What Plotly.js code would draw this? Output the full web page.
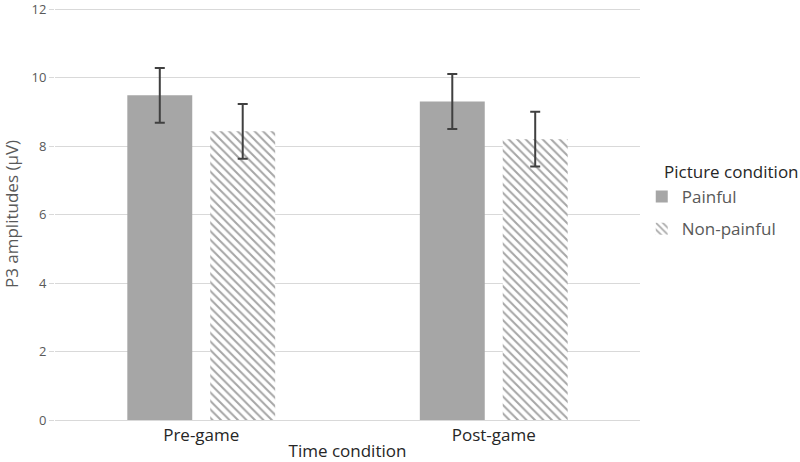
<!DOCTYPE html>
<html>
<head>
<meta charset="utf-8">
<script src="https://cdn.plot.ly/plotly-3.0.1.min.js"></script>
<style>html,body{margin:0;padding:0;background:#fff;}#chart{width:800px;height:462px;}</style>
</head>
<body>
<div id="chart"></div>
<script>
const categories = ["Pre-game", "Post-game"];
const painful = [9.48, 9.3];
const painfulErr = [0.8, 0.8];
const nonPainful = [8.43, 8.2];
const nonPainfulErr = [0.8, 0.8];
const yTicks = [0, 2, 4, 6, 8, 10, 12];

const FONT = "'Open Sans', Lato, sans-serif";
const traces = [
  {
    type: "bar", name: "Painful", x: categories, y: painful, legendgroup: "a",
    marker: {color: "#a6a6a6"},
    error_y: {type: "data", array: painfulErr, visible: true, color: "#404040", thickness: 2, width: 5}
  },
  {
    type: "bar", name: "Non-painful", x: categories, y: nonPainful, legendgroup: "b",
    marker: {color: "#ffffff", pattern: {shape: "\\", fgcolor: "#a6a6a6", bgcolor: "#ffffff", size: 6, solidity: 0.33}},
    error_y: {type: "data", array: nonPainfulErr, visible: true, color: "#404040", thickness: 2, width: 5}
  }
];
const layout = {
  width: 800, height: 462,
  margin: {l: 55, r: 160, t: 8, b: 42},
  paper_bgcolor: "#fff", plot_bgcolor: "#fff",
  font: {family: FONT, color: "#595959", size: 13},
  barmode: "group", bargap: 0.433, bargroupgap: 0.217,
  showlegend: true,
  legend: {
    x: 1.003, xanchor: "left", y: 0.585, yanchor: "top",
    font: {size: 17, color: "#595959", family: FONT},
    tracegroupgap: 7, itemwidth: 30
  },
  annotations: [{
    text: "Picture condition", xref: "paper", yref: "paper",
    x: 1.038, xanchor: "left", y: 0.602, yanchor: "middle", showarrow: false,
    font: {size: 17, color: "#262626", family: FONT}
  }],
  xaxis: {
    type: "category",
    tickfont: {size: 17, color: "#262626", family: FONT},
    title: {text: "Time condition", font: {size: 17, color: "#262626", family: FONT}, standoff: 1},
    showline: true, linecolor: "#d9d9d9", linewidth: 1,
    ticks: "", showgrid: false, automargin: false
  },
  yaxis: {
    range: [0, 12.03], tickvals: yTicks, ticktext: yTicks.map(String),
    tickfont: {size: 13, color: "#595959", family: FONT},
    ticklabeloverflow: "allow",
    title: {text: "P3 amplitudes (μV)", font: {size: 17, color: "#595959", family: FONT}, standoff: 12},
    showgrid: true, gridcolor: "#d9d9d9", gridwidth: 1,
    ticks: "outside", ticklen: 5, tickcolor: "#d9d9d9",
    zeroline: false, showline: false, automargin: false
  }
};
Plotly.newPlot("chart", traces, layout, {displayModeBar: false, staticPlot: true});
</script>
</body>
</html>
